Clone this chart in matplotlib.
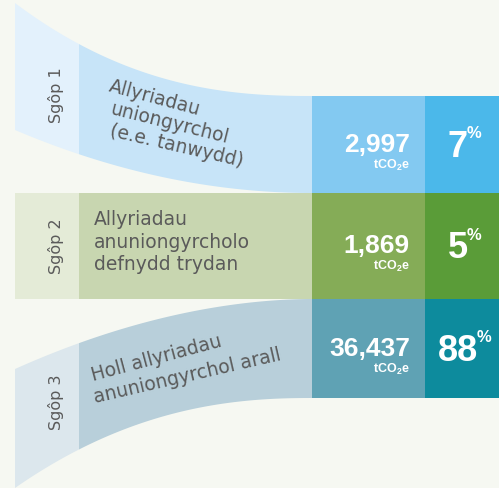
import numpy as np
import matplotlib.pyplot as plt
from matplotlib.patches import Rectangle, Polygon

plt.rcParams['mathtext.fontset'] = 'custom'
plt.rcParams['mathtext.rm'] = 'Liberation Sans'
plt.rcParams['mathtext.bf'] = 'Liberation Sans:bold'

# data
scopes = ["Sgôp 1", "Sgôp 2", "Sgôp 3"]
descriptions = [["Allyriadau", "uniongyrchol", "(e.e. tanwydd)"],
                ["Allyriadau", "anuniongyrcholo", "defnydd trydan"],
                ["Holl allyriadau", "anuniongyrchol arall"]]
emissions = [2997, 1869, 36437]
shares = [7, 5, 88]

# colours: strip, band, number box, percent box
strip_cols = ["#e3f1fc", "#e4ebd7", "#dce7ed"]
band_cols = ["#c7e4f8", "#c8d6b0", "#b8cfda"]
num_cols = ["#83c9f1", "#85ac57", "#5fa2b4"]
pct_cols = ["#4bb8ea", "#5a9c38", "#0d8b9d"]
bg = "#f6f8f2"
grey = "#5a5a5a"

# layout (pixels)
X0, XS, XN, XP, X1 = 15, 79, 312, 425, 499
row_top = [96, 193, 299]
row_bot = [193, 299, 398]
left_top = [3, 193, 369]
left_bot = [130, 299, 488]
k_top = [2.4, 1, 1.9]
k_bot = [2.0, 1, 2.3]


def edge(x, y_left, y_right, k):
    t = (x - X0) / (XN - X0)
    return y_right + (y_left - y_right) * (1 - t) ** k


fig = plt.figure(figsize=(4.99, 4.88), dpi=100, facecolor=bg)
ax = fig.add_axes([0, 0, 1, 1])
ax.set_xlim(0, 499)
ax.set_ylim(488, 0)
ax.axis('off')
ax.set_facecolor(bg)

for i in range(3):
    for xa, xb, col in [(X0, XS, strip_cols[i]), (XS, XN, band_cols[i])]:
        xs = np.linspace(xa, xb, 120)
        top = edge(xs, left_top[i], row_top[i], k_top[i])
        bot = edge(xs, left_bot[i], row_bot[i], k_bot[i])
        pts = np.column_stack([np.r_[xs, xs[::-1]], np.r_[top, bot[::-1]]])
        ax.add_patch(Polygon(pts, closed=True, fc=col, ec='none'))
    h = row_bot[i] - row_top[i]
    ax.add_patch(Rectangle((XN, row_top[i]), XP - XN, h, fc=num_cols[i], ec='none'))
    ax.add_patch(Rectangle((XP, row_top[i]), X1 - XP, h, fc=pct_cols[i], ec='none'))

# scope labels
label_y = [95, 246, 402]
for i, s in enumerate(scopes):
    ax.text(56, label_y[i], s, rotation=90, ha='center', va='center',
            fontsize=11.5, color=grey, family='DejaVu Sans')

# descriptions (x, y baseline, angle per line)
desc_pos = [[(108, 91, -15), (109, 114, -14), (109, 136, -13)],
            [(94, 225, 0), (94, 248, 0), (94, 270, 0)],
            [(93, 381, 15), (95, 403, 13)]]
for i, lines in enumerate(descriptions):
    for txt, (x, y, a) in zip(lines, desc_pos[i]):
        ax.text(x, y, txt, rotation=a, rotation_mode='anchor', ha='left',
                va='baseline', fontsize=13.5, color=grey, family='DejaVu Sans')

fig.canvas.draw()
r = fig.canvas.get_renderer()

for i in range(3):
    cy = (row_top[i] + row_bot[i]) / 2
    ax.text(410, cy + 7, f"{emissions[i]:,}", ha='right', va='baseline',
            fontsize=19, fontweight='bold', color='white', family='Liberation Sans')
    ax.text(410, cy + 24, r"$\mathbf{tCO_2e}$", ha='right', va='baseline',
            fontsize=9, color='white')
    t = ax.text(0, cy + 12.5, f"{shares[i]}", ha='left', va='baseline',
                fontsize=26, fontweight='bold', color='white', family='Liberation Sans')
    p = ax.text(0, cy - 6.5, "%", ha='left', va='baseline',
                fontsize=12, fontweight='bold', color='white', family='Liberation Sans')
    wn = t.get_window_extent(r).width
    wp = p.get_window_extent(r).width
    x_start = 465 - (wn + wp) / 2
    t.set_x(x_start)
    p.set_x(x_start + wn - 1)

fig.savefig("out.png", dpi=100, facecolor=bg)
